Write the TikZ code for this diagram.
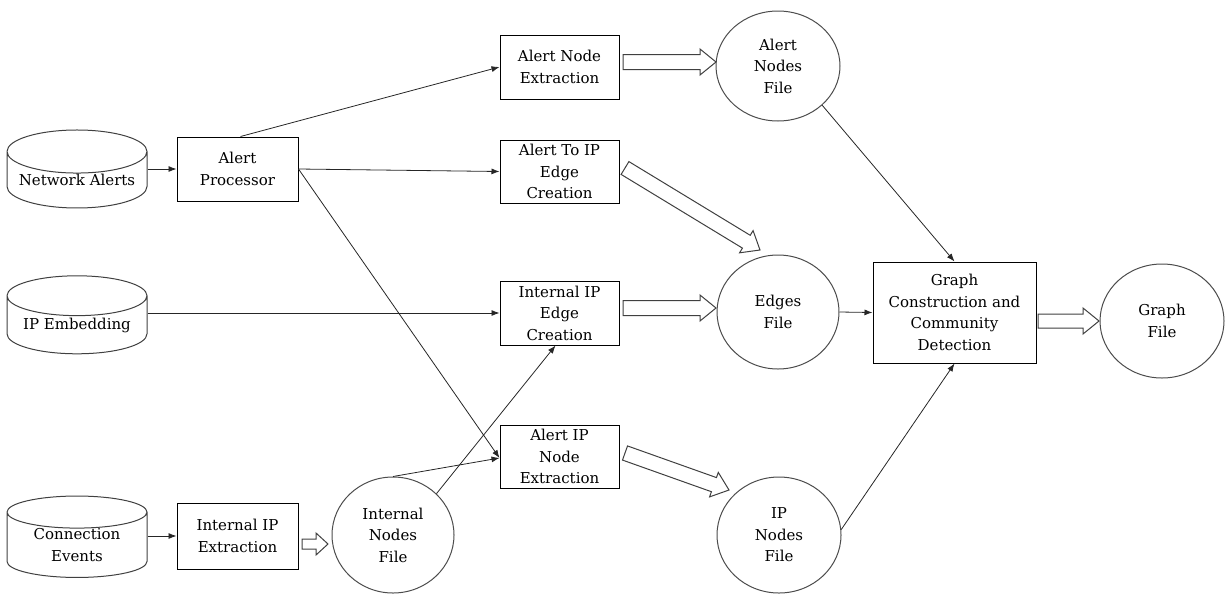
\documentclass[tikz,border=0pt]{standalone}
\usepackage{fontspec}
\setmainfont{DejaVu Serif}
\usetikzlibrary{shapes.geometric,calc,arrows.meta}

% block arrow: #1 from, #2 to, #3 shaft half width, #4 head half width, #5 head length
\newcommand{\blockarrow}[5]{%
  \draw[blockarrow]
    ($(#1)!#3!90:(#2)$) --
    ($($(#2)!#5!(#1)$)!#3!90:(#2)$) --
    ($($(#2)!#5!(#1)$)!#4!90:(#2)$) --
    (#2) --
    ($($(#2)!#5!(#1)$)!#4!-90:(#2)$) --
    ($($(#2)!#5!(#1)$)!#3!-90:(#2)$) --
    ($(#1)!#3!-90:(#2)$) -- cycle;}

\tikzset{
  every node/.style={font=\fontsize{15}{21.5}\selectfont, align=center, inner sep=0pt, text=black},
  procbox/.style={draw=black, line width=1pt, rectangle},
  datafile/.style={draw=black!70, line width=1pt, ellipse},
  store/.style={draw=black!75, line width=1pt, cylinder, shape border rotate=90, aspect=0.37,
    minimum width=140pt, minimum height=78pt},
  flow/.style={line width=0.8pt, draw=black!85, -{Latex[length=8pt,width=6pt]}},
  blockarrow/.style={draw=black!75, line width=1pt, fill=white, line join=miter},
}

\begin{document}
\begin{tikzpicture}[x=1pt,y=-1pt]
\useasboundingbox (0,0) rectangle (1225,595);

% data sources
\node[store] (na)  at (77,180) {Network Alerts};
\node[store] (ipe) at (77,325) {IP Embedding};
\node[store] (ce)  at (77,545) {Connection\\Events};

% processing steps
\node[procbox, minimum width=121pt, minimum height=64pt] (ap)   at (237.5,169) {Alert\\Processor};
\node[procbox, minimum width=121pt, minimum height=66pt] (iipx) at (237.5,536) {Internal IP\\Extraction};
\node[procbox, minimum width=119pt, minimum height=64pt] (ane)  at (559.5,67) {Alert Node\\Extraction};
\node[procbox, minimum width=119pt, minimum height=63pt] (aie)  at (559.5,171.5) {Alert To IP\\Edge\\Creation};
\node[procbox, minimum width=119pt, minimum height=64pt] (iie)  at (559.5,313) {Internal IP\\Edge\\Creation};
\node[procbox, minimum width=119pt, minimum height=63pt] (aipn) at (559.5,456.5) {Alert IP\\Node\\Extraction};
\node[procbox, minimum width=163pt, minimum height=101pt] (gc)  at (954.5,312.5) {Graph\\Construction and\\Community\\Detection};

% files
\node[datafile, minimum width=124pt, minimum height=110pt] (anf)  at (778,66)  {Alert\\Nodes\\File};
\node[datafile, minimum width=122pt, minimum height=114pt] (ef)   at (778,312) {Edges\\File};
\node[datafile, minimum width=124pt, minimum height=116pt] (ipnf) at (779,535) {IP\\Nodes\\File};
\node[datafile, minimum width=122pt, minimum height=116pt] (inf)  at (393,535) {Internal\\Nodes\\File};
\node[datafile, minimum width=124pt, minimum height=114pt] (gf)   at (1162,321) {Graph\\File};

% thin connectors
\draw[flow] (na.east |- ap.west) -- (ap.west);
\draw[flow] (ce.east |- iipx.west) -- (iipx.west);
\draw[flow] (ipe.east |- iie.west) -- (iie.west);
\draw[flow] ([xshift=3pt]ap.north) -- (ane.west);
\draw[flow] (ap.east) -- (aie.west);
\draw[flow] (ap.east) -- ([yshift=-1.5pt]aipn.west);
\draw[flow] (inf.north) -- ([yshift=-1.5pt]aipn.west);
\draw[flow] (inf.north east) -- ([xshift=-4pt]iie.south);
\draw[flow] (ef.east) -- (gc.west);
\draw[flow] (anf.south east) -- (gc.north);
\draw[flow] (ipnf.5) -- (gc.south);

% block arrows
\coordinate (b1s) at (623,62);   \coordinate (b1e) at (716,62);
\coordinate (b2s) at (625,168);  \coordinate (b2e) at (760,250);
\coordinate (b3s) at (623,308);  \coordinate (b3e) at (716,308);
\coordinate (b4s) at (625,453);  \coordinate (b4e) at (729,490);
\coordinate (b5s) at (302,544);  \coordinate (b5e) at (328,544);
\coordinate (b6s) at (1038,321); \coordinate (b6e) at (1099,321);
\blockarrow{b1s}{b1e}{7.5pt}{13pt}{16pt}
\blockarrow{b2s}{b2e}{7.5pt}{13pt}{16pt}
\blockarrow{b3s}{b3e}{7.5pt}{13pt}{16pt}
\blockarrow{b4s}{b4e}{7.5pt}{13pt}{16pt}
\blockarrow{b5s}{b5e}{5pt}{11pt}{12pt}
\blockarrow{b6s}{b6e}{7pt}{13pt}{16pt}
\end{tikzpicture}
\end{document}
